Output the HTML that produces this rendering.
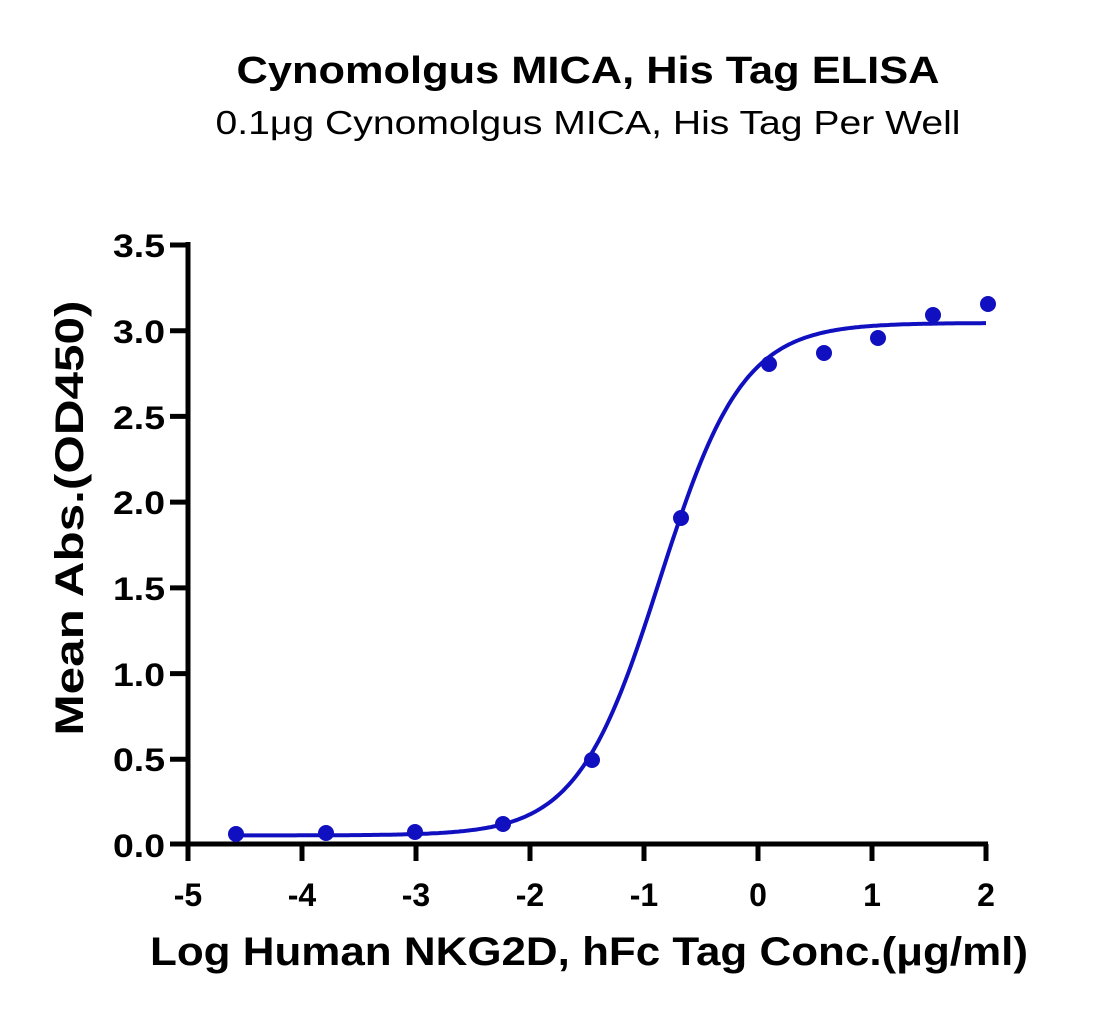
<!DOCTYPE html><html><head><style>body{margin:0;background:#fff}svg{display:block}</style></head><body>
<svg width="1113" height="1017" xmlns="http://www.w3.org/2000/svg" font-family="Liberation Sans, Arial, sans-serif">
<text x="588" y="83" text-anchor="middle" font-size="38" font-weight="bold" textLength="703" lengthAdjust="spacingAndGlyphs">Cynomolgus MICA, His Tag ELISA</text>
<text x="588" y="134" text-anchor="middle" font-size="33" textLength="745" lengthAdjust="spacingAndGlyphs">0.1μg Cynomolgus MICA, His Tag Per Well</text>
<g stroke="#000" stroke-width="5" fill="none">
<path d="M188,242 V846 M170,844 H988"/>
<path d="M170,245H188 M170,330.7H188 M170,416.4H188 M170,502.1H188 M170,587.9H188 M170,673.6H188 M170,759.3H188"/>
<path d="M188,844V861 M302,844V861 M416,844V861 M530,844V861 M644,844V861 M758,844V861 M872,844V861 M986,844V861"/>
</g>
<g font-size="32" font-weight="bold" text-anchor="end">
<text x="165" y="857" textLength="52" lengthAdjust="spacingAndGlyphs">0.0</text><text x="165" y="771" textLength="52" lengthAdjust="spacingAndGlyphs">0.5</text><text x="165" y="686" textLength="52" lengthAdjust="spacingAndGlyphs">1.0</text><text x="165" y="600" textLength="52" lengthAdjust="spacingAndGlyphs">1.5</text><text x="165" y="514" textLength="52" lengthAdjust="spacingAndGlyphs">2.0</text><text x="165" y="429" textLength="52" lengthAdjust="spacingAndGlyphs">2.5</text><text x="165" y="343" textLength="52" lengthAdjust="spacingAndGlyphs">3.0</text><text x="165" y="257" textLength="52" lengthAdjust="spacingAndGlyphs">3.5</text>
</g>
<g font-size="32" font-weight="bold" text-anchor="middle">
<text x="188" y="906">-5</text><text x="302" y="906">-4</text><text x="416" y="906">-3</text><text x="530" y="906">-2</text><text x="644" y="906">-1</text><text x="758" y="906">0</text><text x="872" y="906">1</text><text x="986" y="906">2</text>
</g>
<text x="589" y="965" text-anchor="middle" font-size="40" font-weight="bold" textLength="878" lengthAdjust="spacingAndGlyphs">Log Human NKG2D, hFc Tag Conc.(μg/ml)</text>
<text transform="translate(83,518) rotate(-90)" text-anchor="middle" font-size="40" font-weight="bold" textLength="435" lengthAdjust="spacingAndGlyphs">Mean Abs.(OD450)</text>
<path id="c" fill="none" stroke="#1010c0" stroke-width="4"/>
<g fill="#1010c0">
<circle cx="236" cy="834" r="8"/><circle cx="326" cy="833" r="8"/><circle cx="415" cy="832" r="8"/><circle cx="503" cy="824" r="8"/><circle cx="592" cy="760" r="8"/><circle cx="681" cy="518" r="8"/><circle cx="769" cy="364" r="8"/><circle cx="824" cy="353" r="8"/><circle cx="878" cy="338" r="8"/><circle cx="933" cy="315" r="8"/><circle cx="988" cy="304" r="8"/>
</g>
<script>
var d="";for(var i=0;i<=300;i++){var x=-4.58+i*(6.58/300);var y=0.05+2.99/(1+Math.pow(10,(-0.86-x)*1.2));var px=188+(x+5)*114,py=844-y*171.4;d+=(i?"L":"M")+px.toFixed(1)+","+py.toFixed(1);}document.getElementById("c").setAttribute("d",d);
</script>
</svg></body></html>
